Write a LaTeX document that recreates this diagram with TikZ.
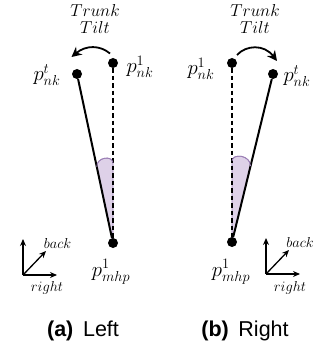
\documentclass[tikz,border=0pt]{standalone}
\usepackage{fontspec}
\newfontfamily\capfont{Liberation Sans}
\usetikzlibrary{arrows.meta}
\definecolor{wedgefill}{HTML}{DED1E8}
\definecolor{wedgeedge}{HTML}{9B7FB5}
\begin{document}
\begin{tikzpicture}[x=1pt,y=-1pt,
 dot/.style={circle,fill=black,inner sep=0pt,minimum size=10pt},
 lbl/.style={inner sep=0pt,font=\fontsize{21}{21}\selectfont},
 tilt/.style={inner sep=0pt,align=center,font=\fontsize{18.5}{16.5}\selectfont},
 axlbl/.style={inner sep=0pt,font=\fontsize{15}{15}\selectfont},
 bone/.style={line width=2pt},
 refline/.style={line width=2pt,dash pattern=on 4.5pt off 3pt},
 tiltarrow/.style={line width=1.8pt,-{Stealth[length=10pt,width=10pt]}},
 axis/.style={line width=1.3pt,-{Stealth[length=7pt,width=6pt]}},
 wedge/.style={fill=wedgefill,draw=wedgeedge,line width=0.8pt},
 caption/.style={inner sep=0pt,font=\capfont\fontsize{21.5}{21.5}\selectfont}]
\useasboundingbox (0,0) rectangle (321,347);

% ---------- Left panel ----------
\fill[wedge] (113,243) -- (96.8,167) .. controls (96.3,157) and (112.5,155) .. (113,163) -- cycle;
\node[dot] (Lt) at (77,74) {};
\node[dot] (L1) at (113,63) {};
\node[dot] (Lm) at (113,243) {};
\draw[refline] (L1) -- (Lm);
\draw[bone] (Lt) -- (Lm);
\draw[wedge,fill=none] (96.8,167) .. controls (96.3,157) and (112.5,155) .. (113,163);
\node[lbl] (Ltl) at (47,75) {$p^t_{nk}$};
\node[lbl] (L1l) at (140,67) {$p^1_{nk}$};
\node[lbl] (Lml) at (111,272) {$p^1_{mhp}$};
\node[tilt] (Ltt) at (95,19) {$Trunk$\\$Tilt$};
\coordinate (La) at (110,53.5);
\coordinate (Lb) at (71.5,57);
\draw[tiltarrow] (La) .. controls (100,45) and (86,45) .. (Lb);
\coordinate (Lo) at (23,275);
\coordinate (Lu) at (23,239);
\coordinate (Lr) at (57,275);
\coordinate (Ld) at (46,251);
\draw[axis] (Lo) -- (Lu);
\draw[axis] (Lo) -- (Lr);
\draw[axis] (Lo) -- (Ld);
\node[axlbl] (Lbk) at (57.5,243) {$back$};
\node[axlbl] (Lrt) at (47,288) {$right$};
\node[caption,anchor=base] (Lcap) at (83,336) {\textbf{(a)}\hspace{0.45em}Left};

% ---------- Right panel ----------
\fill[wedge] (232,242) -- (232,161) .. controls (232.5,153) and (250.5,155) .. (250.5,166) -- cycle;
\node[dot] (R1) at (232,63) {};
\node[dot] (Rt) at (273,74) {};
\node[dot] (Rm) at (232,242) {};
\draw[refline] (R1) -- (Rm);
\draw[bone] (Rt) -- (Rm);
\draw[wedge,fill=none] (232,161) .. controls (232.5,153) and (250.5,155) .. (250.5,166);
\node[lbl] (R1l) at (201,69) {$p^1_{nk}$};
\node[lbl] (Rtl) at (297,76) {$p^t_{nk}$};
\node[lbl] (Rml) at (231,272) {$p^1_{mhp}$};
\node[tilt] (Rtt) at (255,19) {$Trunk$\\$Tilt$};
\coordinate (Ra) at (237,55);
\coordinate (Rb) at (277,61);
\draw[tiltarrow] (Ra) .. controls (246,45) and (264,44) .. (Rb);
\coordinate (Ro) at (266,274);
\coordinate (Ru) at (266,238);
\coordinate (Rr) at (300,274);
\coordinate (Rd) at (289,250);
\draw[axis] (Ro) -- (Ru);
\draw[axis] (Ro) -- (Rr);
\draw[axis] (Ro) -- (Rd);
\node[axlbl] (Rbk) at (300,242) {$back$};
\node[axlbl] (Rrt) at (290,288) {$right$};
\node[caption,anchor=base] (Rcap) at (245,336) {\textbf{(b)}\hspace{0.45em}Right};
\end{tikzpicture}
\end{document}
